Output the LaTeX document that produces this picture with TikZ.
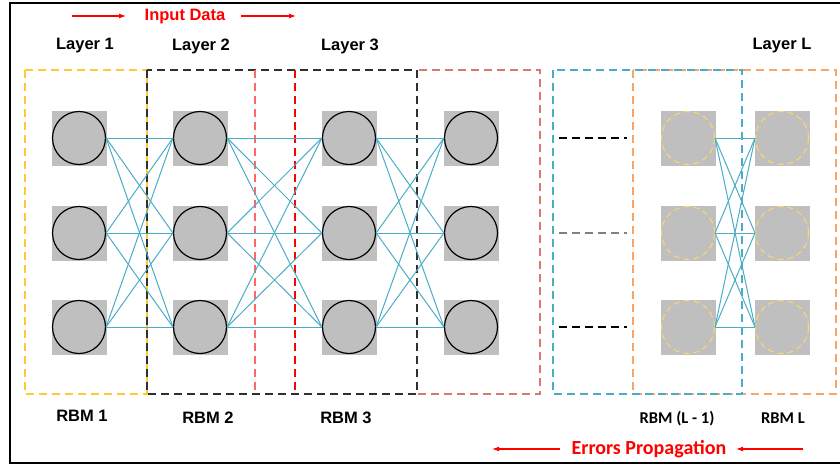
\documentclass[tikz,border=0pt]{standalone}
\usepackage{fontspec}
\setmainfont{Liberation Sans}
\newfontfamily\calibrifont{Carlito}
\usetikzlibrary{arrows.meta,positioning}
\definecolor{UnitGrey}{HTML}{BFBFBF}
\definecolor{LinkBlue}{HTML}{4BACC6}
\definecolor{RbmYellow}{HTML}{FFC935}
\definecolor{RbmBlack}{HTML}{303030}
\definecolor{RbmPink}{HTML}{FF6666}
\definecolor{RbmSalmon}{HTML}{D9786F}
\definecolor{RbmBlue}{HTML}{4BACC6}
\definecolor{RbmOrange}{HTML}{F7A66A}
\definecolor{GhostYellow}{HTML}{FFD966}

\begin{document}
\begin{tikzpicture}[
x=1pt,y=-1pt,
unitsq/.style={fill=UnitGrey,minimum size=55pt,inner sep=0pt},
unit/.style={circle,draw,line width=1.2pt,minimum size=53pt,inner sep=0pt},
ghost/.style={circle,draw=GhostYellow,line width=1pt,dash pattern=on 6pt off 4pt,minimum size=53pt,inner sep=0pt},
link/.style={draw=LinkBlue,line width=1pt},
rbmbox/.style={line width=1.3pt,dash pattern=on 8pt off 5pt},
skipline/.style={line width=1.3pt,dash pattern=on 8pt off 5pt},
lbl/.style={font=\bfseries\fontsize{16.5}{18}\selectfont},
clbl/.style={font=\calibrifont\bfseries\fontsize{16.5}{18}\selectfont},
flow/.style={-{Latex[length=7pt,width=5pt]},draw=red,line width=1.1pt}
]
\useasboundingbox (0,0) rectangle (840,466);
\draw[line width=1.8pt] (850,3) -- (10,3) -- (10,463) -- (850,463);

% rbm boxes
\draw[rbmbox,draw=RbmYellow] (25,70) rectangle (147,394);
\draw[rbmbox,draw=RbmSalmon] (417,70) rectangle (540,394);
\draw[rbmbox,draw=RbmBlack] (147,70) rectangle (417,394);
\draw[rbmbox,draw=RbmPink] (255,70) -- (255,390);
\draw[rbmbox,draw=red] (295,70) -- (295,390);
\draw[rbmbox,draw=RbmOrange] (633,70) rectangle (836,394);
\draw[rbmbox,draw=RbmBlue] (553,70) rectangle (742,394);

% units
\foreach \col/\x in {1/79,2/200,3/349,4/471}{
  \foreach \row/\y in {1/138,2/233,3/327}{
    \node[unitsq] at (\x,\y) {};
    \node[unit] (n\col\row) at (\x,\y) {};
  }
}
\foreach \col/\x in {5/688,6/782}{
  \foreach \row/\y in {1/138,2/233,3/327}{
    \node[unitsq] at (\x,\y) {};
    \node[ghost] (n\col\row) at (\x,\y) {};
  }
}

% weights
\foreach \a/\b in {1/2,2/3,3/4,5/6}
  \foreach \i in {1,2,3}
    \foreach \j in {1,2,3}
      \draw[link] (n\a\i.east) -- (n\b\j.west);

% skipped layers
\draw[skipline] (559,138) -- (627,138);
\draw[skipline,draw=gray] (559,233) -- (627,233);
\draw[skipline] (559,327) -- (627,327);

% labels
\node[lbl,text=red] (input) at (185,17) {Input Data};
\node[lbl] (l1) at (85,46) {Layer 1};
\node[lbl] (l2) at (201,46) {Layer 2};
\node[lbl] (l3) at (350,46) {Layer 3};
\node[lbl] (lL) at (782,46) {Layer L};
\node[lbl] (r1) at (82,416) {RBM 1};
\node[lbl] (r2) at (208,418) {RBM 2};
\node[lbl] (r3) at (346,418) {RBM 3};
\node[clbl] (rL1) at (677,419) {RBM (L - 1)};
\node[clbl] (rL) at (783,418) {RBM L};
\node[clbl,font=\calibrifont\bfseries\fontsize{20}{22}\selectfont,text=red] (errors) at (649,449) {Errors Propagation};

\coordinate (in1) at (72,16);
\coordinate (in2) at (126,16);
\coordinate (in3) at (241,16);
\coordinate (in4) at (296,16);
\coordinate (er1) at (560,449);
\coordinate (er2) at (492,449);
\coordinate (er3) at (803,449);
\coordinate (er4) at (736,449);
\draw[flow] (in1) -- (in2);
\draw[flow] (in3) -- (in4);
\draw[flow] (er1) -- (er2);
\draw[flow] (er3) -- (er4);
\end{tikzpicture}
\end{document}
